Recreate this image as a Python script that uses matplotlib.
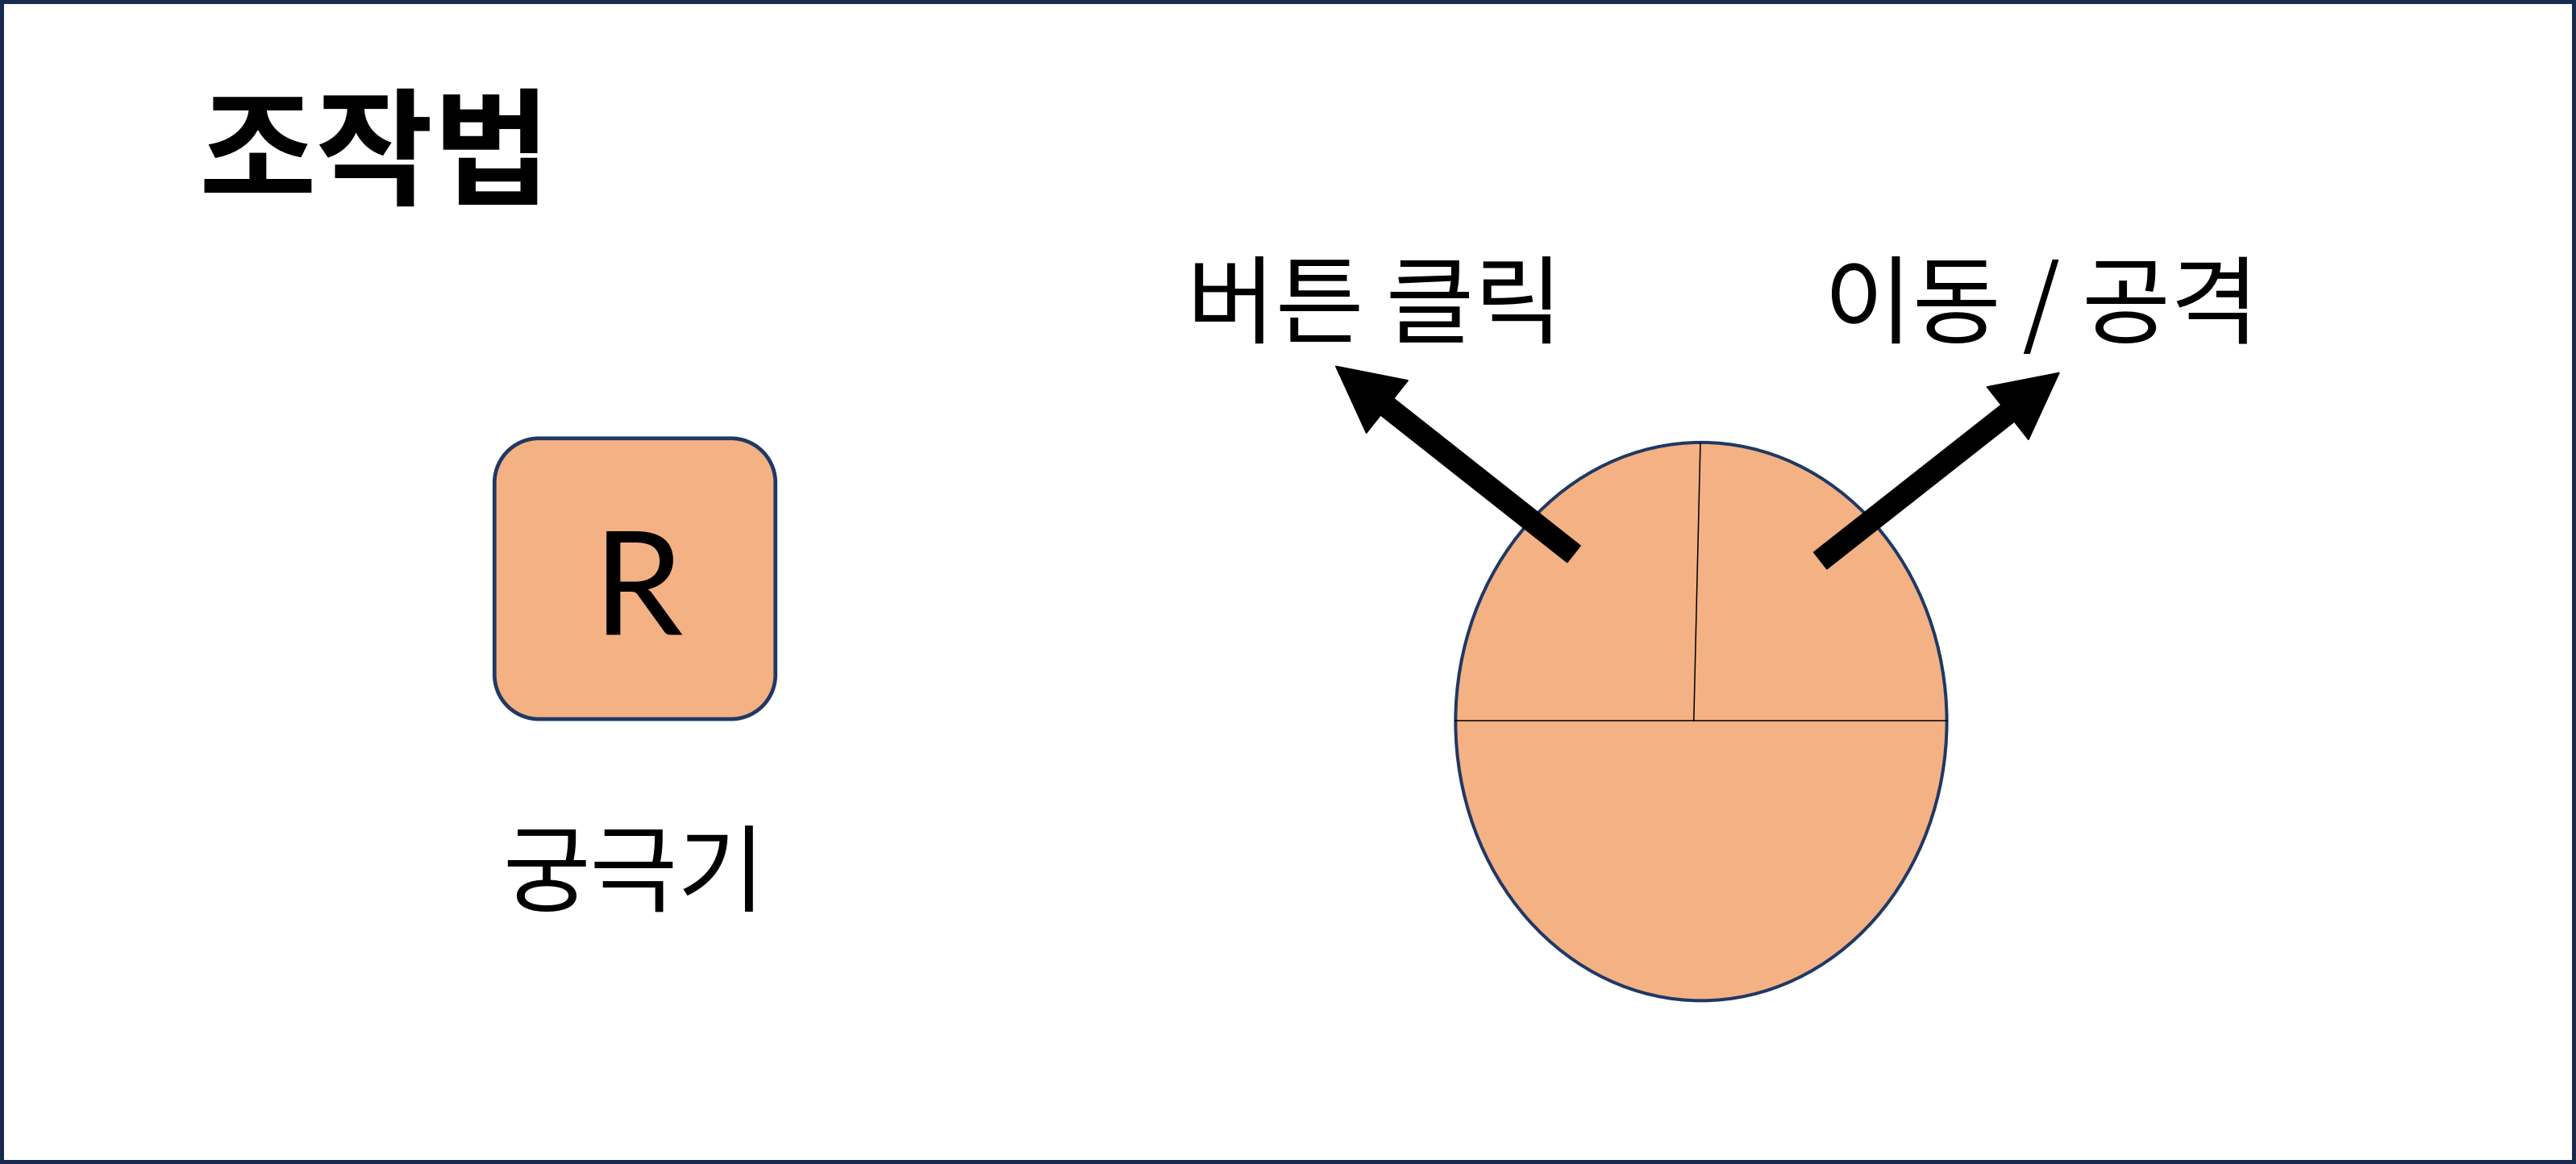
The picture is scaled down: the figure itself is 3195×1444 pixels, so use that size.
import matplotlib
matplotlib.use("Agg")
import numpy as np
import matplotlib.pyplot as plt
from matplotlib.patches import Polygon, Ellipse, FancyArrow, Rectangle

plt.rcParams['font.family'] = ['Noto Sans CJK KR', 'DejaVu Sans']

# texts of the diagram
title = "조작법"
key_letter = "R"
key_label = "궁극기"
arrow_labels = ["버튼 클릭", "이동 / 공격"]

# arrows: (tail x, tail y, tip x, tip y) in the 1568x709 layout
arrow_tails = [(958, 337.5), (1108, 341.5)]
arrow_tips = [(813, 223), (1253.5, 227)]
label_pos = [(837, 188), (1242.5, 188)]

fill = "#F4B183"
edge = "#1F3864"


def rounded_box(x0, y0, w, h, r):
    # corners drawn as circular arcs
    pts = []
    for cx, cy, a0 in [(x0 + w - r, y0 + r, -90), (x0 + w - r, y0 + h - r, 0),
                       (x0 + r, y0 + h - r, 90), (x0 + r, y0 + r, 180)]:
        t = np.radians(np.linspace(a0, a0 + 90, 30))
        pts += list(zip(cx + r * np.cos(t), cy + r * np.sin(t)))
    return Polygon(pts, closed=True, facecolor=fill, edgecolor=edge,
                   linewidth=3.4, joinstyle="round")


fig = plt.figure(figsize=(31.95, 14.44), dpi=100)
ax = fig.add_axes([0, 0, 1, 1])
ax.set_xlim(0, 1568)
ax.set_ylim(709, 0)
ax.axis("off")

# outer frame
fig.patches.append(Rectangle((0, 0), 1, 1, transform=fig.transFigure,
                             fill=False, edgecolor="#172B4F", linewidth=7.2))

ax.text(228, 96, title, fontsize=114, fontweight="bold", ha="center", va="center")

# key box
ax.add_patch(rounded_box(301, 267, 171, 171, 27))
ax.text(388.5, 386, key_letter, fontsize=128, family="Lato", ha="center", va="baseline")
ax.text(386, 535, key_label, fontsize=85, ha="center", va="center")

# mouse
mouse = Ellipse((1035.5, 439.5), 299, 340, facecolor=fill, edgecolor=edge, linewidth=2.9)
ax.add_patch(mouse)
ax.plot([886, 1185], [439, 439], color="black", lw=1.1)
ax.plot([1035, 1031], [270, 439], color="black", lw=1.1)

for (x0, y0), (x1, y1) in zip(arrow_tails, arrow_tips):
    ax.add_patch(FancyArrow(x0, y0, x1 - x0, y1 - y0, width=13, head_width=41,
                            head_length=40, length_includes_head=True,
                            color="black", zorder=5))

for (tx, ty), s in zip(label_pos, arrow_labels):
    ax.text(tx, ty, s, fontsize=86, ha="center", va="center")

plt.savefig("out.png", dpi=100)
